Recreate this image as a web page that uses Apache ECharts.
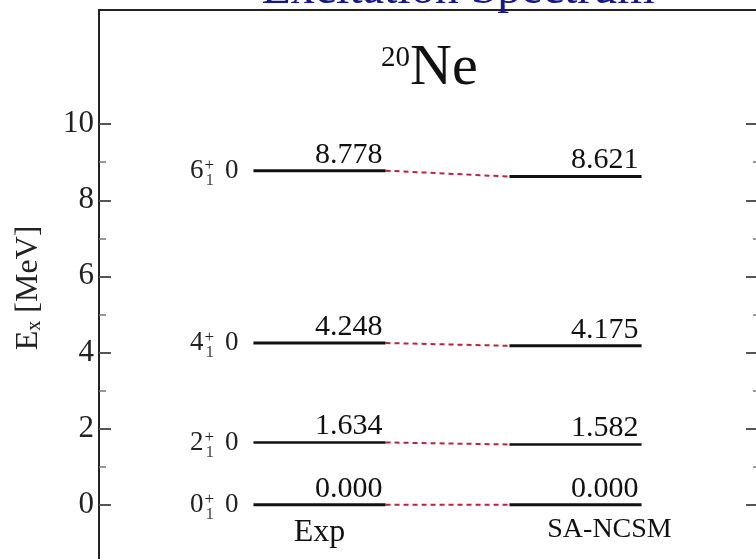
<!DOCTYPE html>
<html>
<head>
<meta charset="utf-8">
<script src="https://cdn.jsdelivr.net/npm/echarts@6/dist/echarts.min.js"></script>
<style>
  html, body { margin: 0; padding: 0; background: #fff; }
  #chart { width: 756px; height: 559px; }
</style>
</head>
<body>
<div id="chart"></div>
<script>
// 20Ne excitation spectrum: experiment vs. SA-NCSM (energies in MeV)
const columns = ['Exp', 'SA-NCSM'];
const expEnergies = [0.000, 1.634, 4.248, 8.778];
const ncsmEnergies = [0.000, 1.582, 4.175, 8.621];
const expLabels = ['0.000', '1.634', '4.248', '8.778'];
const ncsmLabels = ['0.000', '1.582', '4.175', '8.621'];
const stateSpins = ['0', '2', '4', '6'];
const stateParity = '+';
const stateIndex = '1';
const stateIsospin = '0';
const yTicks = [0, 2, 4, 6, 8, 10];
const yMinorTicks = [1, 3, 5, 7, 9];
const titleText = 'Excitation Spectrum';
const nucleusMass = '20';
const nucleusSymbol = 'Ne';

const SERIF = '"Liberation Serif", "Times New Roman", serif';
const Y_MIN = -2, Y_MAX = 13;
const PX_PER_MEV = 38.05;
const PLOT_H = (Y_MAX - Y_MIN) * PX_PER_MEV;

// rows for the level bars: [column index, energy, printed value, state index]
const levelRows = [];
expEnergies.forEach((e, i) => levelRows.push([0, e, expLabels[i], i]));
ncsmEnergies.forEach((e, i) => levelRows.push([1, e, ncsmLabels[i], i]));
// rows for the dashed connectors: [0, exp energy, ncsm energy]
const linkRows = expEnergies.map((e, i) => [0, e, ncsmEnergies[i]]);
// rows for the column captions
const captionRows = columns.map((c, i) => [i, 0, c]);

const HALF = 0.258; // half length of a level bar, as a fraction of the column width

function levelItem(params, api) {
  const col = api.value(0);
  const e = api.value(1);
  const p = api.coord([col, e]);
  const bw = api.size([1, 0])[0];
  const x0 = p[0] - bw * HALF, x1 = p[0] + bw * HALF;
  const y = p[1];
  const idx = api.value(3);
  const children = [
    { type: 'line', shape: { x1: x0, y1: y, x2: x1, y2: y },
      style: { stroke: '#111', lineWidth: idx === 1 ? 2.5 : 3 } },
    { type: 'text', style: { x: x1 - 3, y: y - 1, text: levelRows[params.dataIndex][2],
      font: '30px ' + SERIF, fill: '#111', align: 'right', verticalAlign: 'bottom' } }
  ];
  if (col === 0) {
    children.push(
      { type: 'text', style: { x: x0 - 50, y: y, text: stateSpins[idx],
        font: '27px ' + SERIF, fill: '#222', align: 'right', verticalAlign: 'middle' } },
      { type: 'text', style: { x: x0 - 49, y: y - 5, text: stateParity,
        font: '17px ' + SERIF, fill: '#222', align: 'left', verticalAlign: 'middle' } },
      { type: 'text', style: { x: x0 - 48, y: y + 10, text: stateIndex,
        font: '17px ' + SERIF, fill: '#444', align: 'left', verticalAlign: 'middle' } },
      { type: 'text', style: { x: x0 - 15, y: y, text: stateIsospin,
        font: '27px ' + SERIF, fill: '#222', align: 'right', verticalAlign: 'middle' } }
    );
  }
  return { type: 'group', children };
}

function linkItem(params, api) {
  const bw = api.size([1, 0])[0];
  const a = api.coord([0, api.value(1)]);
  const b = api.coord([1, api.value(2)]);
  return {
    type: 'line',
    shape: { x1: a[0] + bw * HALF, y1: a[1], x2: b[0] - bw * HALF, y2: b[1] },
    style: { stroke: '#b8243c', lineWidth: 2, lineDash: [5, 4] }
  };
}

function captionItem(params, api) {
  const col = api.value(0);
  const p = api.coord([col, api.value(1)]);
  const isExp = col === 0;
  return {
    type: 'text',
    style: {
      x: p[0] + (isExp ? 0 : 34), y: p[1] + (isExp ? 44 : 39),
      text: columns[col], font: (isExp ? '32px ' : '28px ') + SERIF,
      fill: '#111', align: 'center', verticalAlign: 'bottom'
    }
  };
}

const tickAxis = (position, major) => ({
  gridIndex: 0, type: 'value', min: Y_MIN, max: Y_MAX, position,
  axisLine: { show: false },
  axisTick: { show: true, inside: true, length: major ? 14 : 7, customValues: major ? yTicks : yMinorTicks,
    lineStyle: { color: major ? '#555' : '#777', width: major ? 2 : 1.5 } },
  axisLabel: { show: false },
  splitLine: { show: false }
});

const chart = echarts.init(document.getElementById('chart'), null, { renderer: 'canvas' });
chart.setOption({
  backgroundColor: '#fff',
  animation: false,
  title: [
    { text: '{m|' + nucleusMass + '}{s|' + nucleusSymbol + '}', left: 376, top: 33,
      textStyle: { fontWeight: 'normal', rich: {
        m: { fontFamily: SERIF, fontSize: 29, fontWeight: 'normal', color: '#111', verticalAlign: 'top',
             lineHeight: 60, padding: [6, 0, 0, 0] },
        s: { fontFamily: SERIF, fontSize: 58, fontWeight: 'normal', color: '#111', verticalAlign: 'bottom', lineHeight: 60 }
      } } }
  ],
  graphic: [
    { type: 'text', x: 458, y: 14, z: 10,
      style: { text: titleText, font: '48px ' + SERIF, fill: '#15188a', align: 'center', verticalAlign: 'bottom' } }
  ],
  grid: [
    { left: 99, top: 10, width: 661, height: PLOT_H, outerBoundsMode: 'none', containLabel: false,
      show: true, borderColor: '#222', borderWidth: 2 },
    { left: 191.5, top: 10, width: 512, height: PLOT_H, outerBoundsMode: 'none', containLabel: false }
  ],
  xAxis: [
    { gridIndex: 0, type: 'value', min: 0, max: 1, show: false },
    { gridIndex: 1, type: 'category', data: columns, boundaryGap: true, show: false }
  ],
  yAxis: [
    { gridIndex: 0, type: 'value', min: Y_MIN, max: Y_MAX, position: 'left',
      name: '{e|E}{x|x}{u| [MeV]}', nameLocation: 'middle', nameGap: 54, nameRotate: 90,
      nameTextStyle: { padding: [0, 0, 0, 15], rich: {
        e: { fontFamily: SERIF, fontSize: 32, color: '#222' },
        x: { fontFamily: SERIF, fontSize: 20, color: '#222', verticalAlign: 'bottom', padding: [12, 0, 0, 0] },
        u: { fontFamily: SERIF, fontSize: 32, color: '#222' }
      } },
      axisLine: { show: true, lineStyle: { color: '#222', width: 2 } },
      axisTick: { show: true, inside: true, length: 12, customValues: yTicks,
        lineStyle: { color: '#555', width: 2 } },
      axisLabel: { show: true, customValues: yTicks, margin: 5, fontFamily: SERIF, fontSize: 31, color: '#222' },
      splitLine: { show: false }
    },
    tickAxis('left', false),
    tickAxis('right', true),
    tickAxis('right', false),
    { gridIndex: 1, type: 'value', min: Y_MIN, max: Y_MAX, show: false }
  ],
  series: [
    { type: 'custom', name: 'links', xAxisIndex: 1, yAxisIndex: 4, data: linkRows,
      encode: { x: 0, y: [1, 2] }, renderItem: linkItem, silent: true, z: 2 },
    { type: 'custom', name: 'levels', xAxisIndex: 1, yAxisIndex: 4, data: levelRows,
      encode: { x: 0, y: 1 }, renderItem: levelItem, silent: true, z: 3 },
    { type: 'custom', name: 'captions', xAxisIndex: 1, yAxisIndex: 4, data: captionRows,
      encode: { x: 0, y: 1 }, renderItem: captionItem, silent: true, z: 3 }
  ]
});
</script>
</body>
</html>
